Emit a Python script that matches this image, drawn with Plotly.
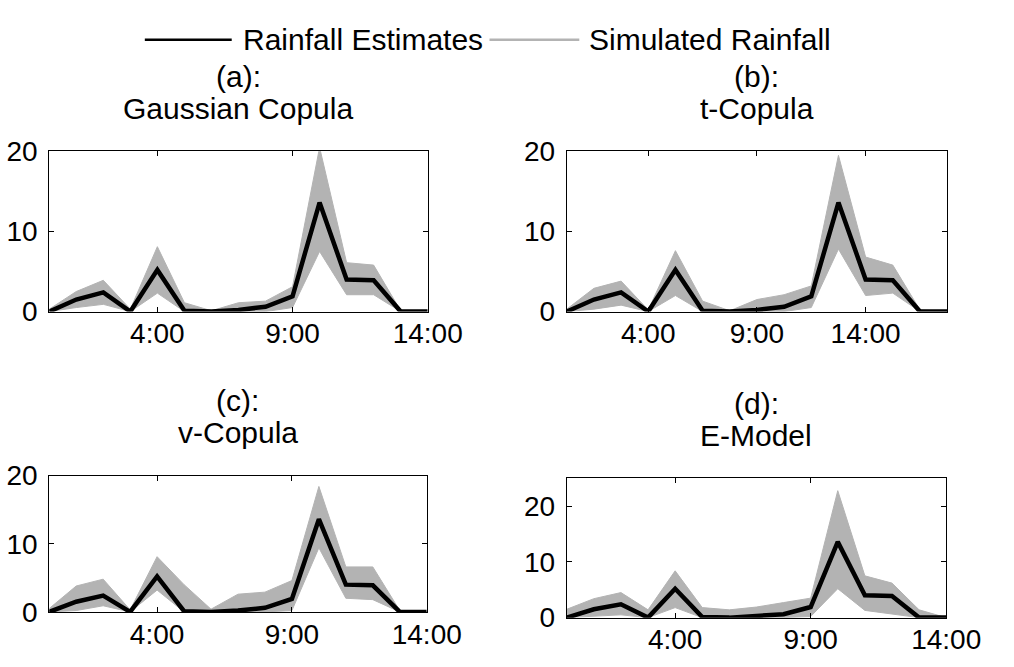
import plotly.graph_objects as go

# Hourly time axis (0:00 .. 14:00)
hours = list(range(15))
tick_labels = ["4:00", "9:00", "14:00"]
tick_hours = [4, 9, 14]
tick_hours_b = [3, 7, 11]

# Rainfall estimates (black line), identical in every panel
estimates = [0, 1.5, 2.4, 0, 5.2, 0.1, 0, 0.2, 0.6, 1.9, 13.6, 4.0, 3.9, 0, 0]

# Envelope of the simulated rainfall ensembles (upper / lower bounds)
gauss_upper = [0.3, 2.5, 3.9, 0.3, 8.1, 1.1, 0.1, 1.1, 1.3, 3.1, 20.5, 6.1, 5.8, 0.1, 0]
gauss_lower = [0, 0.5, 0.9, 0, 2.3, 0, 0, 0, 0, 0.5, 7.5, 2.1, 2.1, 0, 0]

t_upper = [0.3, 2.9, 3.8, 0.2, 7.6, 1.3, 0.1, 1.5, 2.1, 3.2, 19.5, 6.8, 5.8, 0.2, 0]
t_lower = [0, 0.3, 0.8, 0, 2.0, 0, 0, 0, 0, 0.5, 7.8, 2.0, 2.3, 0, 0]

v_upper = [0.5, 3.8, 4.8, 0.3, 8.1, 4.0, 0.4, 2.6, 2.9, 4.6, 18.4, 6.6, 6.6, 0.2, 0]
v_lower = [0, 0.2, 0.9, 0, 3.2, 0, 0, 0, 0, 0.2, 9.4, 2.0, 1.8, 0, 0]

e_upper = [1.5, 3.4, 4.5, 1.4, 8.4, 1.8, 1.4, 1.9, 2.7, 3.5, 22.8, 7.5, 6.2, 1.4, 0]
e_lower = [0, 0.3, 0.5, 0, 1.8, 0, 0, 0, 0, 0.2, 5.2, 1.3, 0.7, 0, 0]

panel_labels = ["(a):", "(b):", "(c):", "(d):"]
panel_names = ["Gaussian Copula", "t-Copula", "v-Copula", "E-Model"]
y_max = [20, 20, 20, 25]
y_ticks = [0, 10, 20]

W, H = 1014, 667
FONT = "Liberation Sans, Arial, sans-serif"
GREY = "#b3b3b3"
TICK_SIZE = 28
TITLE_SIZE = 30
LEGEND_SIZE = 30

# pixel boxes of the four axes: (left, right, top, bottom)
boxes = [(51, 443, 143, 311), (587, 981, 143, 311),
         (51, 442, 483, 626), (587, 980, 486, 632)]
bands = [(gauss_upper, gauss_lower), (t_upper, t_lower),
         (v_upper, v_lower), (e_upper, e_lower)]
xticks = [tick_hours, tick_hours_b, tick_hours, tick_hours]

fig = go.Figure()
annotations = []
for k in range(4):
    xa = "x" if k == 0 else f"x{k + 1}"
    ya = "y" if k == 0 else f"y{k + 1}"
    upper, lower = bands[k]
    fig.add_trace(go.Scatter(x=hours, y=lower, mode="lines",
                             line=dict(color=GREY, width=1),
                             xaxis=xa, yaxis=ya, showlegend=False, hoverinfo="skip"))
    fig.add_trace(go.Scatter(x=hours, y=upper, mode="lines",
                             line=dict(color=GREY, width=1), fill="tonexty",
                             fillcolor=GREY, name="Simulated Rainfall",
                             xaxis=xa, yaxis=ya, showlegend=False))
    fig.add_trace(go.Scatter(x=hours, y=estimates, mode="lines",
                             line=dict(color="black", width=4.5),
                             name="Rainfall Estimates",
                             xaxis=xa, yaxis=ya, showlegend=False))

    l, r, t, b = boxes[k]
    axis_common = dict(showline=True, linecolor="black", linewidth=1,
                       mirror="ticks", ticks="inside", ticklen=5,
                       tickcolor="black", tickwidth=1, showgrid=False,
                       zeroline=False,
                       tickfont=dict(family=FONT, size=TICK_SIZE, color="black"))
    xname = "xaxis" if k == 0 else f"xaxis{k + 1}"
    yname = "yaxis" if k == 0 else f"yaxis{k + 1}"
    fig.update_layout(**{
        xname: dict(domain=[l / W, r / W], range=[0, 14], anchor=ya,
                    tickvals=xticks[k], ticktext=tick_labels,
                    ticklabelstandoff=-3, **axis_common),
        yname: dict(domain=[1 - b / H, 1 - t / H], range=[0, y_max[k]],
                    anchor=xa, tickvals=y_ticks, ticklabelstandoff=5,
                    **axis_common),
    })

    # two-line panel title above each axes box
    cx = (l + r) / 2 / W
    annotations.append(dict(text=panel_labels[k], x=cx, y=1 - (t - 79) / H,
                            xref="paper", yref="paper", showarrow=False,
                            xanchor="center", yanchor="middle",
                            font=dict(family=FONT, size=TITLE_SIZE, color="black")))
    annotations.append(dict(text=panel_names[k], x=cx, y=1 - (t - 45) / H,
                            xref="paper", yref="paper", showarrow=False,
                            xanchor="center", yanchor="middle",
                            font=dict(family=FONT, size=TITLE_SIZE, color="black")))

# legend row drawn across the top
legend_y = 1 - 26 / H
shapes = [
    dict(type="line", xref="paper", yref="paper", x0=150 / W, x1=240 / W,
         y0=legend_y, y1=legend_y, line=dict(color="black", width=2.5)),
    dict(type="line", xref="paper", yref="paper", x0=507 / W, x1=600 / W,
         y0=legend_y, y1=legend_y, line=dict(color=GREY, width=2.5)),
]
annotations.append(dict(text="Rainfall Estimates", x=250 / W, y=legend_y,
                        xref="paper", yref="paper", showarrow=False,
                        xanchor="left", yanchor="middle",
                        font=dict(family=FONT, size=LEGEND_SIZE, color="black")))
annotations.append(dict(text="Simulated Rainfall", x=608 / W, y=legend_y,
                        xref="paper", yref="paper", showarrow=False,
                        xanchor="left", yanchor="middle",
                        font=dict(family=FONT, size=LEGEND_SIZE, color="black")))

fig.update_layout(width=W, height=H, margin=dict(l=0, r=0, t=0, b=0),
                  paper_bgcolor="white", plot_bgcolor="white",
                  showlegend=False, annotations=annotations, shapes=shapes)

fig.write_html("out.html")
